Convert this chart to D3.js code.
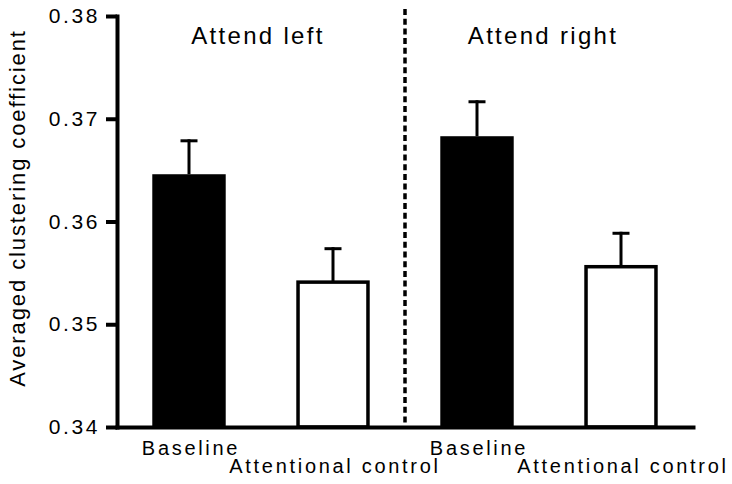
<!DOCTYPE html>
<html>
<head>
<meta charset="utf-8">
<script src="https://cdn.jsdelivr.net/npm/d3@7"></script>
<style>
  html, body { margin: 0; padding: 0; background: #fff; }
  svg { display: block; }
  text { font-family: "Liberation Sans", Arial, Helvetica, sans-serif; fill: #000; }
</style>
</head>
<body>
<svg id="chart" width="732" height="484"></svg>
<script>
// ---- data ----
const conditions = ["Attend left", "Attend right"];
const groups = ["Baseline", "Attentional control"];
const means = [0.3646, 0.3541, 0.3683, 0.3556];
const errors = [0.0034, 0.0034, 0.0035, 0.0034];
const yTicks = [0.34, 0.35, 0.36, 0.37, 0.38];
const yLabel = "Averaged clustering coefficient";

// ---- build rows ----
const rows = [];
conditions.forEach((c, ci) => groups.forEach((g, gi) => {
  const i = ci * groups.length + gi;
  rows.push({ key: c + "|" + g, condition: c, group: g, gi: gi, mean: means[i], err: errors[i] });
}));

const svg = d3.select("#chart");

const x = d3.scaleBand()
  .domain(rows.map(d => d.key))
  .range([117, 693])
  .paddingInner(0.49)
  .paddingOuter(0.245);

const y = d3.scaleLinear()
  .domain([0.34, 0.38])
  .range([427, 16]);

// ---- bars ----
const bars = svg.append("g");
bars.selectAll("rect")
  .data(rows)
  .join("rect")
  .attr("x", d => d.gi === 0 ? x(d.key) : x(d.key) + 1.75)
  .attr("width", d => d.gi === 0 ? x.bandwidth() : x.bandwidth() - 3.5)
  .attr("y", d => y(d.mean))
  .attr("height", d => y(0.34) - y(d.mean))
  .attr("fill", d => d.gi === 0 ? "#000" : "#fff")
  .attr("stroke", d => d.gi === 0 ? "none" : "#000")
  .attr("stroke-width", 3.5);

// ---- error bars ----
const eb = svg.append("g").attr("stroke", "#000").attr("stroke-width", 3);
eb.selectAll("line.v")
  .data(rows)
  .join("line")
  .attr("class", "v")
  .attr("x1", d => x(d.key) + x.bandwidth() / 2)
  .attr("x2", d => x(d.key) + x.bandwidth() / 2)
  .attr("y1", d => y(d.mean))
  .attr("y2", d => y(d.mean + d.err));
eb.selectAll("line.c")
  .data(rows)
  .join("line")
  .attr("class", "c")
  .attr("x1", d => x(d.key) + x.bandwidth() / 2 - 8.5)
  .attr("x2", d => x(d.key) + x.bandwidth() / 2 + 8.5)
  .attr("y1", d => y(d.mean + d.err) + 1.5)
  .attr("y2", d => y(d.mean + d.err) + 1.5);

// ---- dashed separator ----
const step = x.step();
const sepX = x(rows[2].key) - (step - x.bandwidth()) / 2;
svg.append("line")
  .attr("x1", sepX).attr("x2", sepX)
  .attr("y1", 9).attr("y2", 427)
  .attr("stroke", "#000")
  .attr("stroke-width", 3.5)
  .attr("stroke-dasharray", "6,3.7");

// ---- y axis ----
const yAxis = svg.append("g")
  .attr("transform", "translate(117,0)")
  .call(d3.axisLeft(y).tickValues(yTicks).tickFormat(d3.format(".2f")).tickSize(11).tickSizeOuter(0).tickPadding(6));
yAxis.select(".domain").attr("stroke-width", 4).attr("stroke-linecap", "square");
yAxis.selectAll(".tick line").attr("stroke-width", 4);
yAxis.selectAll(".tick text")
  .attr("font-size", 21)
  .attr("letter-spacing", "2.6px")
  .attr("font-family", "Liberation Sans, Arial, sans-serif");

// ---- x axis ----
const xAxis = svg.append("g")
  .attr("transform", "translate(0,427)")
  .call(d3.axisBottom(x).tickSize(0).tickSizeOuter(0).tickFormat(k => k.split("|")[1]));
xAxis.select(".domain").attr("stroke-width", 4).attr("stroke-linecap", "square");
xAxis.selectAll(".tick text")
  .attr("font-size", 20)
  .attr("letter-spacing", "2.7px")
  .attr("font-family", "Liberation Sans, Arial, sans-serif")
  .attr("dy", null)
  .attr("x", 2)
  .attr("y", (k) => k.split("|")[1] === groups[0] ? 28 : 46);

// ---- condition titles ----
const titleX = [258, 543];
svg.selectAll("text.title")
  .data(conditions)
  .join("text")
  .attr("class", "title")
  .attr("x", (d, i) => titleX[i])
  .attr("y", 44)
  .attr("text-anchor", "middle")
  .attr("font-size", 24)
  .attr("letter-spacing", "2.3px")
  .text(d => d);

// ---- y label ----
svg.append("text")
  .attr("transform", "translate(25,208) rotate(-90)")
  .attr("text-anchor", "middle")
  .attr("font-size", 22)
  .attr("letter-spacing", "1.9px")
  .text(yLabel);
</script>
</body>
</html>
